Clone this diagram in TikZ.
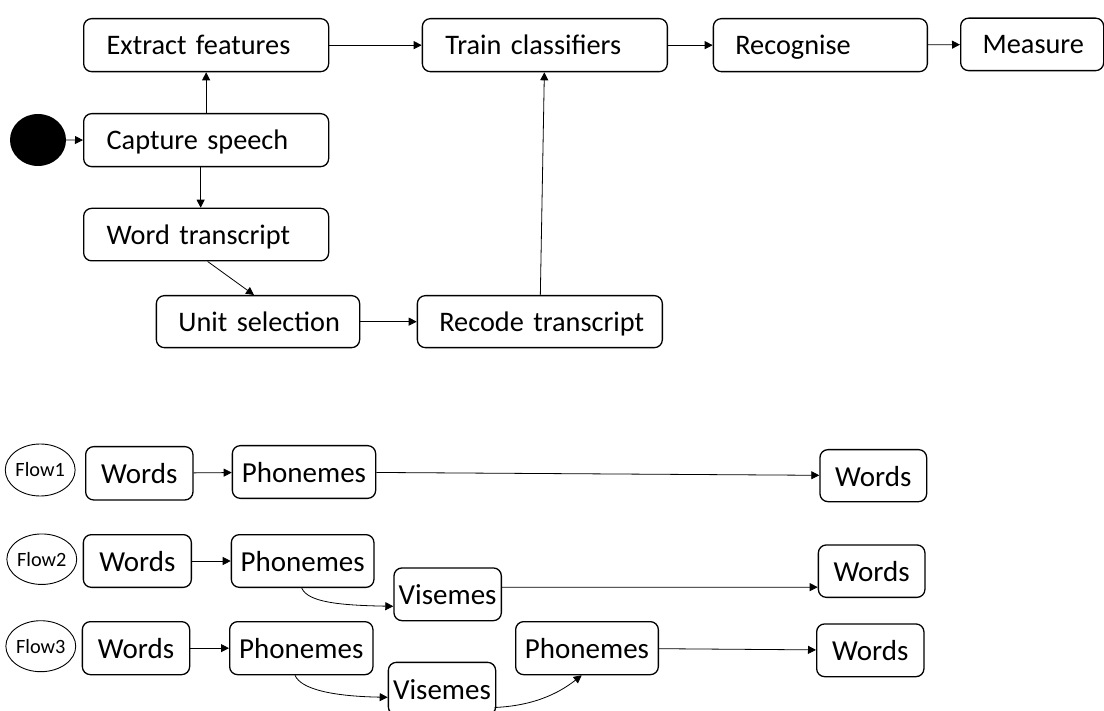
\documentclass[tikz,border=0pt]{standalone}
\usepackage{fontspec}
\setmainfont{Carlito}
\usetikzlibrary{arrows.meta,calc,shapes.geometric}
\hbadness=10000 \hfuzz=20pt
\begin{document}
\begin{tikzpicture}[x=1pt,y=-1pt,
  tbox/.style={draw, line width=1.3pt, rounded corners=8pt, anchor=north west,
    inner xsep=22pt, inner ysep=0pt, align=left, text height=22pt, text depth=3pt,
    font=\fontsize{28.3}{33}\selectfont},
  fbox/.style={draw, line width=1.3pt, rounded corners=8pt, anchor=north west,
    inner sep=0pt, align=center, text height=24pt, text depth=3pt,
    font=\fontsize{29}{33}\selectfont},
  flowlab/.style={draw, ellipse, line width=0.9pt, inner sep=0pt,
    minimum width=55pt, font=\fontsize{20.3}{23}\selectfont},
  arr/.style={-{Triangle[length=8pt,width=8pt]}, line width=0.8pt}
]
\useasboundingbox (0,0) rectangle (1104,711);

% top part
\node[fill=black, ellipse, minimum width=56pt, minimum height=52pt, inner sep=0pt] (start) at (38,140) {};
\node[tbox, inner xsep=23pt, minimum height=53pt, text width=199pt] (ext) at (83,18) {\mbox{Extract features}};
\node[tbox, inner xsep=23pt, minimum height=53pt, text width=199pt] (cap) at (83,113) {\mbox{Capture speech}};
\node[tbox, inner xsep=23pt, minimum height=52.5pt, text width=199pt] (wt) at (83,207.7) {\mbox{Word transcript}};
\node[tbox, minimum height=52pt, text width=159.3pt] (us) at (155.7,295) {\mbox{Unit selection}};
\node[tbox, minimum height=52pt, text width=201pt] (rt) at (416.7,295) {\mbox{Recode transcript}};
\node[tbox, inner xsep=23pt, minimum height=53pt, text width=199pt] (tc) at (421.7,18) {\mbox{Train classifiers}};
\node[tbox, minimum height=53pt, text width=170pt] (rec) at (712.7,18) {\mbox{Recognise}};
\node[tbox, minimum height=52.5pt, text width=99pt] (mea) at (960,17.5) {\mbox{Measure}};

\draw[arr] (start) -- (cap);
\draw[arr] (cap) -- (ext);
\draw[arr] ([xshift=-5.5pt]cap.south) -- ([xshift=-5.5pt]wt.north);
\draw[arr] ([xshift=1.5pt]wt.south) -- ([xshift=-4pt]us.north);
\draw[arr] (us) -- (rt);
\draw[arr] (rt) -- (tc);
\draw[arr] (ext) -- (tc);
\draw[arr] (tc) -- (rec);
\draw[arr] (rec) -- (mea);

% flow 1
\node[flowlab, minimum height=52pt] (f1) at (40.2,470) {Flow1};
\node[fbox, minimum width=107.3pt, minimum height=53.3pt] (w1) at (85,446) {Words};
\node[fbox, minimum width=143.3pt, minimum height=52.7pt] (p1) at (231.7,445) {Phonemes};
\node[fbox, minimum width=106.7pt, minimum height=52pt] (wr1) at (819.3,449) {Words};
\draw[arr] (w1) -- (p1);
\draw[arr] (p1) -- (wr1);

% flow 2
\node[flowlab, minimum height=50.5pt] (f2) at (41.8,559.2) {Flow2};
\node[fbox, minimum width=108pt, minimum height=52.7pt] (w2) at (82.7,534) {Words};
\node[fbox, minimum width=142.6pt, minimum height=52.7pt] (p2) at (230.7,534) {Phonemes};
\node[fbox, minimum width=107.4pt, minimum height=52.7pt] (v2) at (393.3,567.3) {Visemes};
\node[fbox, minimum width=106.6pt, minimum height=52.4pt] (wr2) at (817.7,544.3) {Words};
\draw[arr] (w2) -- (p2);
\draw[arr] ($(p2.south west)+(71,0)$) .. controls +(6,14) and +(-55,-1) .. ($(v2.west)+(0,12)$);
\draw[arr] ($(v2.east)+(0,-7)$) -- ($(wr2.west)+(0,16)$);

% flow 3
\node[flowlab, minimum height=51pt] (f3) at (40.8,646.2) {Flow3};
\node[fbox, minimum width=107.3pt, minimum height=53pt] (w3) at (81.7,621) {Words};
\node[fbox, minimum width=143.3pt, minimum height=53pt] (p3) at (229,621) {Phonemes};
\node[fbox, minimum width=107.3pt, minimum height=52.5pt] (v3) at (387.7,661.7) {Visemes};
\node[fbox, minimum width=142.7pt, minimum height=53pt] (p4) at (515,621) {Phonemes};
\node[fbox, minimum width=107.3pt, minimum height=52.7pt] (wr3) at (816,623.3) {Words};
\draw[arr] (w3) -- (p3);
\draw[arr] ($(p3.south west)+(66,0)$) .. controls +(6,14) and +(-55,-1) .. ($(v3.west)+(0,8.7)$);
\draw[arr] ($(v3.south east)+(-1.7,-8)$) .. controls +(45,-2) and +(-18,14) .. ($(p4.south west)+(66.7,0)$);
\draw[arr] (p4) -- (wr3);
\end{tikzpicture}
\end{document}
